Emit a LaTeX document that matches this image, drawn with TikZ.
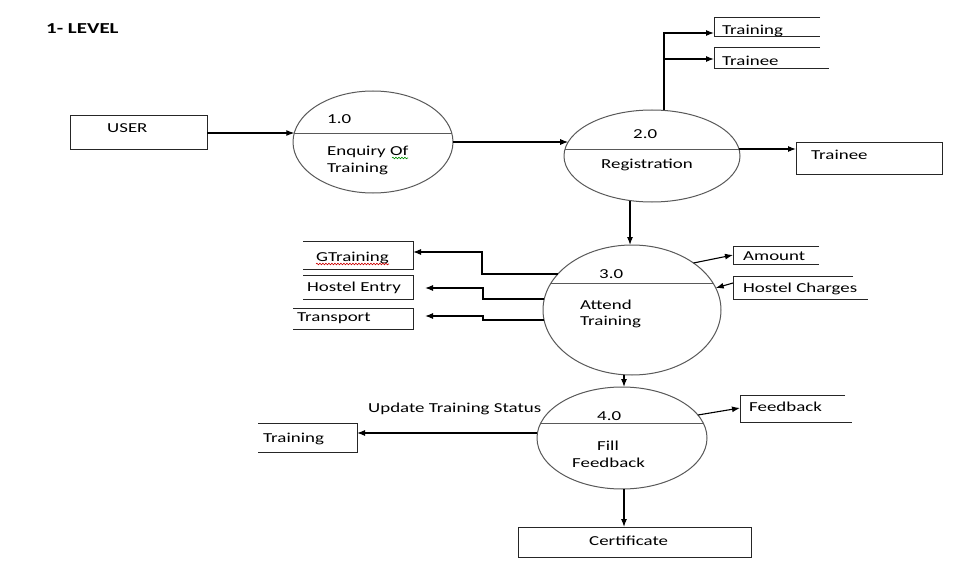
\documentclass[tikz,border=0pt]{standalone}
\usepackage{fontspec}
\setmainfont{Carlito}[FakeStretch=1.38]
\usetikzlibrary{shapes.geometric,arrows.meta,calc,decorations.pathmorphing}
\newcommand\dfont{\fontsize{13.7}{16}\selectfont}
\newcommand\tfont{\fontsize{15.2}{18}\selectfont}
\begin{document}
\begin{tikzpicture}[x=1pt,y=-1pt,
  conn/.style={line width=1.1pt, black},
  arr/.style={conn, -{Latex[length=8pt,width=6pt]}},
  proc/.style={ellipse, draw=black!65, line width=1pt, inner sep=0pt, outer sep=0pt},
  divl/.style={draw=black!65, line width=1pt},
  lbl/.style={anchor=base west, inner sep=0pt, font=\dfont},
  frame/.style={draw=black!85, line width=0.9pt},
  area/.style={inner sep=0pt, outer sep=0pt, anchor=north west},
  squig/.style={decorate, decoration={snake, segment length=3pt, amplitude=0.8pt}, line width=0.6pt}]

\useasboundingbox[fill=white] (0,0) rectangle (962,578);

% title
\node[lbl, font=\tfont\bfseries] (title) at (46,34) {1- LEVEL};

% ---------- processes ----------
\node[proc, minimum width=160pt, minimum height=102pt] (c1) at (373,142) {};
\node[proc, minimum width=176pt, minimum height=92pt] (c2) at (652,156) {};
\node[proc, minimum width=178pt, minimum height=130pt] (c3) at (632,310) {};
\node[proc, minimum width=170pt, minimum height=102pt] (c4) at (622,438) {};

\begin{scope}\clip (373,142) ellipse [x radius=80, y radius=51];
  \draw[divl] (280,133) -- (470,133);\end{scope}
\begin{scope}\clip (652,156) ellipse [x radius=88, y radius=46];
  \draw[divl] (550,149) -- (750,149);\end{scope}
\begin{scope}\clip (632,310) ellipse [x radius=89, y radius=65];
  \draw[divl] (530,283) -- (740,283);\end{scope}
\begin{scope}\clip (622,438) ellipse [x radius=85, y radius=51];
  \draw[divl] (520,423) -- (720,423);\end{scope}

\node[lbl] (n1) at (327,123) {1.0};
\node[lbl] (n1a) at (327,155) {Enquiry Of};
\node[lbl] (n1b) at (327,172) {Training};
\draw[squig, green!55!black] (392,158) -- (408,158);

\node[lbl] (n2) at (633,139) {2.0};
\node[lbl] (n2a) at (601,168) {Registration};

\node[lbl] (n3) at (599,278) {3.0};
\node[lbl] (n3a) at (580,309) {Attend};
\node[lbl] (n3b) at (580,325) {Training};

\node[lbl] (n4) at (597,420) {4.0};
\node[lbl] (n4a) at (597,450) {Fill};
\node[lbl] (n4b) at (572,467) {Feedback};

% ---------- external entities ----------
\node[area, frame, minimum width=137pt, minimum height=34pt] (user) at (70,115) {};
\node[lbl] (tuser) at (107,132) {USER};

\node[area, frame, minimum width=146pt, minimum height=32pt] (trbox) at (796,142) {};
\node[lbl] (ttrbox) at (811,159) {Trainee};

\node[area, frame, minimum width=233pt, minimum height=30pt] (cert) at (518,527) {};
\node[lbl] (tcert) at (589,545) {Certificate};

% ---------- data stores ----------
\draw[frame] (820,17) -- (714,17) -- (714,36) -- (820,36);
\node[lbl] (sA) at (722,35) {Training};
\draw[frame] (820,47) -- (714,47) -- (714,68) -- (829,68);
\node[lbl] (sB) at (722,66) {Trainee};

\draw[frame] (303,241) -- (413,241) -- (413,269) -- (303,269);
\node[lbl] (sG) at (316,261) {GTraining};
\draw[squig, red!80!black] (316,264) -- (389,264);
\draw[frame] (303,275) -- (413,275) -- (413,299) -- (303,299);
\node[lbl] (sH) at (307,291) {Hostel Entry};
\draw[frame] (293,308) -- (413,308) -- (413,329) -- (293,329);
\node[lbl] (sT) at (297,321) {Transport};

\draw[frame] (819,246) -- (733,246) -- (733,264) -- (819,264);
\node[lbl] (sAm) at (743,260) {Amount};
\draw[frame] (853,276) -- (733,276) -- (733,299) -- (868,299);
\node[lbl] (sHC) at (743,292) {Hostel Charges};

\draw[frame] (258,423) -- (357,423) -- (357,452) -- (258,452);
\node[lbl] (sTr) at (263,442) {Training};

\draw[frame] (845,395) -- (740,395) -- (740,422) -- (852,422);
\node[lbl] (sF) at (749,411) {Feedback};

\node[lbl] (upd) at (368,412) {Update Training Status};

% ---------- connection points ----------
\coordinate (c1in) at (294.3,133);
\coordinate (c2in) at (568.2,142);
\coordinate (c2out) at (739,149);
\coordinate (c2top) at (664,110.4);
\coordinate (c2bot) at (630,200.5);
\coordinate (sAin) at (714,33);
\coordinate (sBin) at (714,59);
\coordinate (c3g) at (557.9,274);
\coordinate (c3h) at (544.3,299);
\coordinate (c3t) at (544.1,320);
\coordinate (gin) at (413,252);
\coordinate (hin) at (425,288);
\coordinate (tin) at (425,316);
\coordinate (c3am) at (693.5,263);
\coordinate (amin) at (733,255);
\coordinate (hcout) at (733,283);
\coordinate (c3hc) at (715.7,288);
\coordinate (c3bot) at (624,374.7);
\coordinate (c4top) at (624,387);
\coordinate (c4l) at (537.4,433);
\coordinate (trin) at (357,433);
\coordinate (c4f) at (697.9,415);
\coordinate (fin) at (740,408);
\coordinate (c4bot) at (624,489);

% ---------- connectors ----------
\draw[arr] (user.east |- c1in) -- (c1in);
\draw[arr] (c1.east) -- (c2in);
\draw[arr] (c2out) -- (c2out -| trbox.west);
\draw[arr] (c2top) |- (sAin);
\draw[arr] (c2top |- sBin) -- (sBin);
\draw[arr] (c2bot) -- (c2bot |- c3.north);
\draw[arr] (c3g) -| ($(gin)+(69,0)$) -- (gin);
\draw[arr] (c3h) -| ($(hin)+(58,0)$) -- (hin);
\draw[arr] (c3t) -| ($(tin)+(58,0)$) -- (tin);
\draw[arr] (c3am) -- (amin);
\draw[arr] (hcout) -- (c3hc);
\draw[arr] (c3bot) -- (c4top);
\draw[arr] (c4l) -- (trin);
\draw[arr] (c4f) -- (fin);
\draw[arr] (c4bot) -- (c4bot |- cert.north);

\end{tikzpicture}
\end{document}
